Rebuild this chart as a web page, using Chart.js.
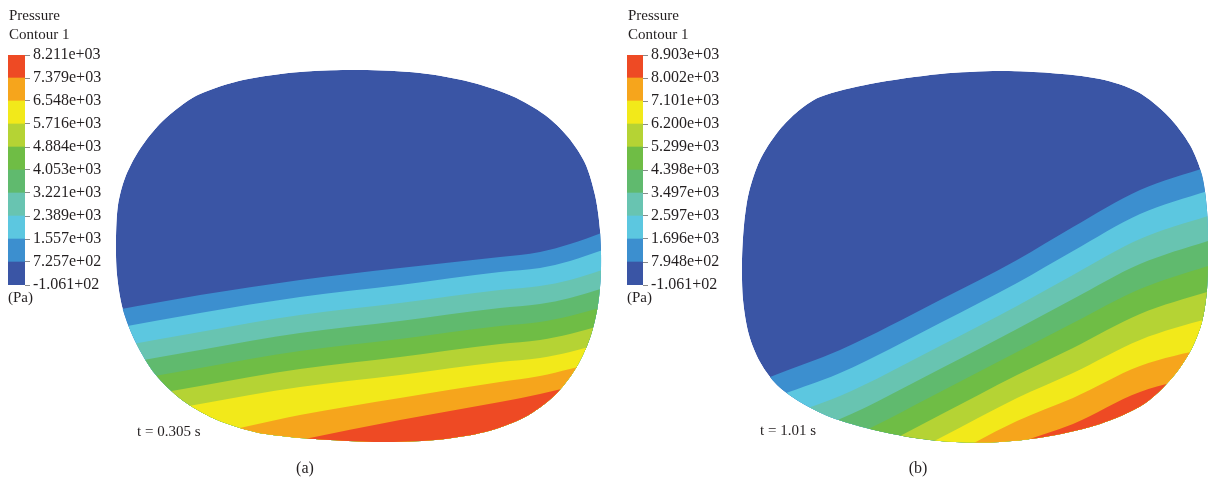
<!DOCTYPE html>
<html>
<head>
<meta charset="utf-8">
<script src="https://cdn.jsdelivr.net/npm/chart.js@4/dist/chart.umd.min.js"></script>
<style>
  html, body { margin: 0; padding: 0; background: #ffffff; }
  #fig { position: relative; width: 1213px; height: 482px; overflow: hidden;
         font-family: "Liberation Serif", "Times New Roman", serif; color: #231f20; }
  #fig canvas { position: absolute; }
  .txt { position: absolute; white-space: nowrap; font-size: 15px; line-height: 1; }
  .cap { position: absolute; white-space: nowrap; font-size: 16px; line-height: 1; transform: translateX(-50%); }
</style>
</head>
<body>
<div id="fig">
  <canvas id="barA" width="130" height="300" style="left:0px;top:0px"></canvas>
  <canvas id="tankA" width="520" height="400" style="left:100px;top:55px"></canvas>
  <canvas id="barB" width="130" height="300" style="left:619px;top:0px"></canvas>
  <canvas id="tankB" width="488" height="400" style="left:725px;top:55px"></canvas>

  <div class="txt" style="left:9px;top:8px">Pressure</div>
  <div class="txt" style="left:9px;top:27px">Contour 1</div>
  <div class="txt" style="left:8px;top:290px">(Pa)</div>
  <div class="txt" style="left:137px;top:424px">t = 0.305 s</div>
  <div class="cap" style="left:305px;top:460px">(a)</div>

  <div class="txt" style="left:628px;top:8px">Pressure</div>
  <div class="txt" style="left:628px;top:27px">Contour 1</div>
  <div class="txt" style="left:627px;top:290px">(Pa)</div>
  <div class="txt" style="left:760px;top:423px">t = 1.01 s</div>
  <div class="cap" style="left:918px;top:460px">(b)</div>
</div>

<script>
// Contour level boundaries (Pa) and their printed labels, lowest first
const levelsA = [-106.1, 725.7, 1557, 2389, 3221, 4053, 4884, 5716, 6548, 7379, 8211];
const labelsA = ['-1.061+02', '7.257e+02', '1.557e+03', '2.389e+03', '3.221e+03', '4.053e+03',
                 '4.884e+03', '5.716e+03', '6.548e+03', '7.379e+03', '8.211e+03'];
const levelsB = [-106.1, 794.8, 1696, 2597, 3497, 4398, 5299, 6200, 7101, 8002, 8903];
const labelsB = ['-1.061+02', '7.948e+02', '1.696e+03', '2.597e+03', '3.497e+03', '4.398e+03',
                 '5.299e+03', '6.200e+03', '7.101e+03', '8.002e+03', '8.903e+03'];

// One colour per contour band, lowest pressure first
const bandColors = ['#3a55a5', '#3c8fcf', '#5cc7e0', '#68c4b1', '#60ba6e',
                    '#6fbd45', '#b5d334', '#f2e91a', '#f6a51c', '#ee4a24'];

// Tank cross-section outlines (x, y), y measured downward
const outlineA = [[200,94],[243,80],[300,72],[360,70],[420,73],[470,82],[512,96],[545,115],
  [568,137],[585,163],[595,195],[600,230],[601,270],[598,305],[590,338],[576,368],[555,395],
  [525,417],[485,432],[435,440],[380,442],[330,440],[290,437],[255,432],[215,419],[182,400],
  [155,374],[136,343],[123,310],[117,275],[116,240],[118,205],[125,178],[138,152],[157,127],
  [178,108]];
const outlineB = [[820,97],[870,84],[940,74],[1000,71],[1050,73],[1100,79],[1138,92],[1168,116],
  [1190,145],[1202,175],[1207,210],[1208,250],[1207,290],[1202,322],[1191,350],[1172,378],
  [1144,404],[1100,424],[1050,436],[1000,442],[955,442],[915,438],[870,429],[830,417],
  [800,402],[777,385],[760,362],[749,335],[743,300],[742,262],[744,225],[749,192],[760,160],
  [777,133],[796,113]];

// Isobar positions between successive bands (first row = free surface)
const isoXA = [100, 200, 300, 400, 500, 540, 570, 620];
const isobarsA = [
  [313, 295, 280, 268, 257, 252, 244, 226],
  [331, 313, 297, 285, 272, 268, 261, 244],
  [350, 332, 315, 303, 290, 286, 280, 264],
  [368, 350, 333, 321, 308, 304, 298, 283],
  [386, 368, 351, 339, 326, 322, 316, 302],
  [404, 386, 369, 357, 344, 340, 334, 320],
  [422, 404, 387, 375, 362, 358, 352, 338],
  [448, 436, 415, 398, 382, 376, 369, 356],
  [475, 462, 440, 420, 402, 394, 387, 374]
];
const isoXB = [720, 770, 840, 940, 1017, 1073, 1140, 1220];
const isobarsB = [
  [398, 377, 350, 300, 260, 227, 190, 163],
  [420, 399, 373, 323, 283, 251, 214, 187],
  [442, 421, 396, 346, 306, 275, 239, 212],
  [464, 443, 419, 369, 329, 299, 264, 237],
  [486, 465, 442, 392, 352, 323, 289, 262],
  [508, 487, 465, 415, 375, 348, 314, 288],
  [530, 509, 488, 438, 398, 373, 340, 315],
  [552, 531, 511, 461, 421, 398, 366, 345],
  [574, 553, 534, 484, 444, 424, 392, 372]
];

const serif = 'Liberation Serif';

function colorbar(id, canvasLeft, barLeft, barRight, levels, labels) {
  const canvas = document.getElementById(id);
  const W = canvas.width;
  new Chart(canvas, {
    type: 'bar',
    data: {
      labels: [''],
      datasets: bandColors.map((c, i) => ({
        data: [[levels[i], levels[i + 1]]],
        backgroundColor: c,
        borderWidth: 0,
        grouped: false,
        barPercentage: 1,
        categoryPercentage: 1
      }))
    },
    options: {
      responsive: false,
      animation: false,
      events: [],
      layout: { padding: { left: barLeft - canvasLeft, top: 55, bottom: 15, right: 0 } },
      plugins: { legend: { display: false }, tooltip: { enabled: false } },
      scales: {
        x: { display: false },
        y: {
          position: 'right',
          min: levels[0],
          max: levels[levels.length - 1],
          afterBuildTicks: s => { s.ticks = levels.map(v => ({ value: v })); },
          afterFit: s => { s.width = W - (barRight - canvasLeft); },
          ticks: {
            autoSkip: false,
            padding: 3,
            color: '#231f20',
            font: { family: serif, size: 16 },
            callback: (v, i) => labels[i]
          },
          grid: { drawOnChartArea: false, drawTicks: true, tickLength: 5, color: '#8a8a8a', lineWidth: 1 },
          border: { display: false }
        }
      }
    }
  });
}

// Clip every band to the tank section, whose outline is dataset 0
const clipToTank = {
  id: 'clipToTank',
  beforeDatasetsDraw(chart) {
    const ctx = chart.ctx;
    const line = chart.getDatasetMeta(0).dataset;
    ctx.save();
    line.updateControlPoints(chart.chartArea, 'x');
    ctx.beginPath();
    line.path(ctx);
    ctx.closePath();
    ctx.clip();
  },
  afterDatasetsDraw(chart) {
    chart.ctx.restore();
  }
};

function tank(id, xRange, yRange, outline, isoX, isobars) {
  const pts = outline.map(p => ({ x: p[0], y: p[1] }));
  const loop = [pts[pts.length - 1], ...pts, pts[0], pts[1]];
  const datasets = [{
    data: loop,
    fill: 'shape',
    backgroundColor: bandColors[0],
    borderWidth: 0,
    pointRadius: 0,
    tension: 0.3,
    capBezierPoints: false,
    order: 20
  }];
  isobars.forEach((row, k) => {
    datasets.push({
      data: isoX.map((x, i) => ({ x: x, y: row[i] })),
      fill: { value: yRange[1] + 200 },
      backgroundColor: bandColors[k + 1],
      borderWidth: 0,
      pointRadius: 0,
      cubicInterpolationMode: 'monotone',
      capBezierPoints: false,
      order: 19 - k
    });
  });
  new Chart(document.getElementById(id), {
    type: 'line',
    data: { datasets },
    options: {
      responsive: false,
      animation: false,
      events: [],
      layout: { padding: 0 },
      plugins: { legend: { display: false }, tooltip: { enabled: false } },
      scales: {
        x: { type: 'linear', display: false, min: xRange[0], max: xRange[1] },
        y: { type: 'linear', display: false, min: yRange[0], max: yRange[1], reverse: true }
      }
    },
    plugins: [clipToTank]
  });
}

colorbar('barA', 0, 8, 25, levelsA, labelsA);
colorbar('barB', 619, 627, 643, levelsB, labelsB);
tank('tankA', [100, 620], [55, 455], outlineA, isoXA, isobarsA);
tank('tankB', [725, 1213], [55, 455], outlineB, isoXB, isobarsB);
</script>
</body>
</html>
